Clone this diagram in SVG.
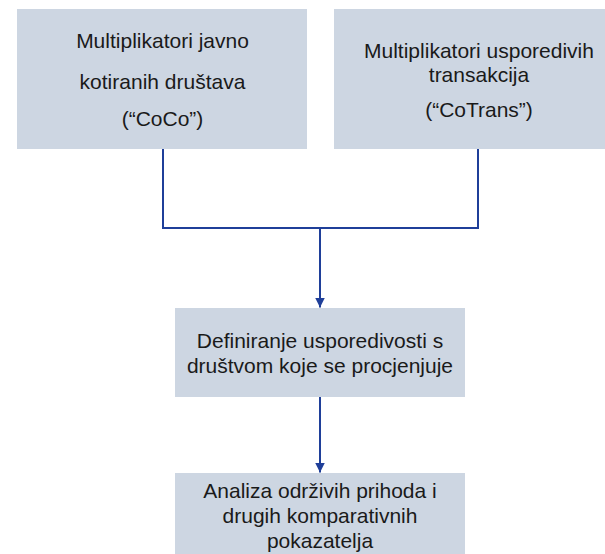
<svg xmlns="http://www.w3.org/2000/svg" width="605" height="554" viewBox="0 0 605 554">
  <style>
    .box { fill: #CDD6E2; }
    .lbl { font-family: "Liberation Sans", Arial, sans-serif; font-size: 21px; fill: #1a1a1a; text-anchor: middle; }
    .conn { fill: none; stroke: #1F3F99; stroke-width: 2; }
  </style>
  <defs>
    <marker id="arrow" markerWidth="10" markerHeight="10" refX="10" refY="5" orient="auto" markerUnits="userSpaceOnUse">
      <path d="M0,0 L10,5 L0,10 Z" fill="#1F3F99"/>
    </marker>
  </defs>
  <rect width="605" height="554" fill="#ffffff"/>
  <g id="node-coco">
    <rect class="box" x="17" y="9" width="290" height="140"/>
    <text class="lbl" x="162.5" y="48">Multiplikatori javno</text>
    <text class="lbl" x="162.5" y="89">kotiranih društava</text>
    <text class="lbl" x="162.5" y="126">(“CoCo”)</text>
  </g>
  <g id="node-cotrans">
    <rect class="box" x="334" y="9" width="290" height="140"/>
    <text class="lbl" x="479" y="58">Multiplikatori usporedivih</text>
    <text class="lbl" x="479" y="82">transakcija</text>
    <text class="lbl" x="479" y="117">(“CoTrans”)</text>
  </g>
  <g id="node-usporedivost">
    <rect class="box" x="175" y="308" width="290" height="89"/>
    <text class="lbl" x="320" y="348">Definiranje usporedivosti s</text>
    <text class="lbl" x="320" y="373">društvom koje se procjenjuje</text>
  </g>
  <g id="node-analiza">
    <rect class="box" x="175" y="473" width="290" height="90"/>
    <text class="lbl" x="320" y="498">Analiza održivih prihoda i</text>
    <text class="lbl" x="320" y="523">drugih komparativnih</text>
    <text class="lbl" x="320" y="548">pokazatelja</text>
  </g>
  <g id="connectors">
    <path class="conn" d="M163,149 V228 H478 V149"/>
    <path class="conn" d="M320,228 V307.5" marker-end="url(#arrow)"/>
    <path class="conn" d="M320,397 V472.5" marker-end="url(#arrow)"/>
  </g>
</svg>
